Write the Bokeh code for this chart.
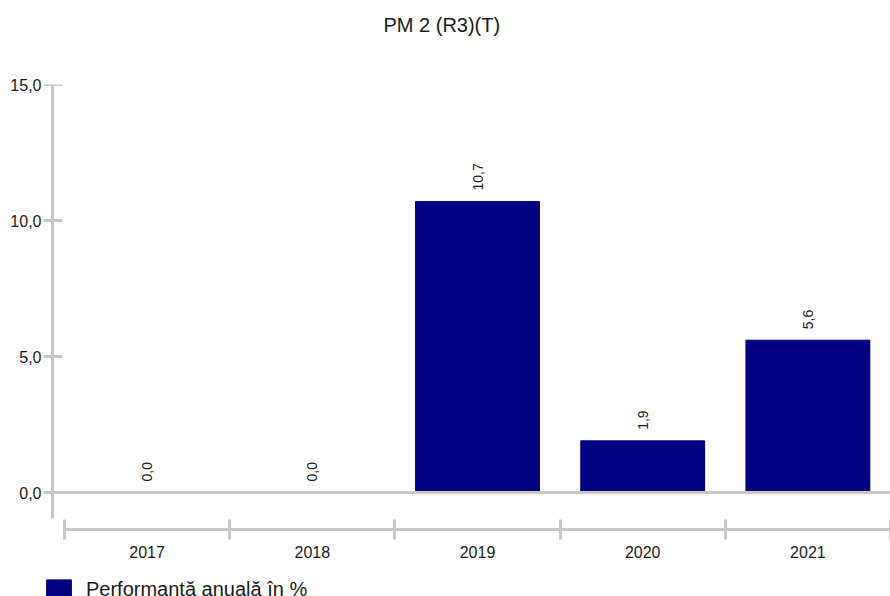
from math import pi
from bokeh.plotting import figure
from bokeh.models import (ColumnDataSource, Range1d, FixedTicker, Legend,
                          LegendItem, Title, LinearAxis)
from bokeh.core.properties import value
from bokeh.embed import file_html
from bokeh.resources import INLINE

# ---- data ----
years = ["2017", "2018", "2019", "2020", "2021"]
performance = [0.0, 0.0, 10.7, 1.9, 5.6]
y_ticks = [0, 5, 10, 15]
y_tick_labels = ["0,0", "5,0", "10,0", "15,0"]
title_text = "PM 2 (R3)(T)"
legend_label = "Performantă anuală în %"

FONT = "Liberation Sans"
GRAY = "#c8c8c8"
BAR = "#000080"
TXT = "#1a1a1a"

PX_X = 165.2   # pixels per category
PX_Y = 27.2    # pixels per unit
Y_AXIS_X = -0.5 - 12 / PX_X        # where the y axis line sits (data x)
X_AXIS_Y = -37 / PX_Y              # where the x axis sits (data y)

xs = list(range(len(years)))
value_labels = [f"{v:.1f}".replace(".", ",") for v in performance]
src = ColumnDataSource(data=dict(x=xs, top=performance, lab=value_labels))

p = figure(frame_width=847, frame_height=512, output_backend="svg",
           toolbar_location=None,
           x_range=Range1d(-0.5 - 21 / PX_X, 4.5),
           y_range=Range1d(15 - 512 / PX_Y, 15),
           min_border_left=43, min_border_right=0, min_border_top=0,
           min_border_bottom=0)
p.outline_line_color = None
p.xgrid.visible = False
p.ygrid.visible = False
p.background_fill_color = "white"
p.border_fill_color = "white"

bars = p.vbar(x="x", top="top", width=0.75, source=src, fill_color=BAR,
              line_color=BAR, line_width=1)

# zero line (drawn over the bars' bases, starting at the y axis)
p.segment(x0=[Y_AXIS_X], y0=[0], x1=[4.5], y1=[0], line_color=GRAY,
          line_width=3)

p.text(x="x", y="top", text="lab", source=src, angle=pi / 2,
       text_align="left", text_baseline="middle", y_offset=-11,
       text_font=value(FONT), text_font_size="14px", text_color=TXT)

# y axis labels (left panel, no line / ticks)
ya = p.yaxis[0]
ya.ticker = FixedTicker(ticks=y_ticks, minor_ticks=[])
ya.major_label_overrides = {float(t): l for t, l in zip(y_ticks, y_tick_labels)}
ya.axis_line_color = None
ya.major_tick_line_color = None
ya.minor_tick_line_color = None
ya.major_tick_in = 0
ya.major_tick_out = 0
ya.major_label_standoff = 2
ya.major_label_text_font = FONT
ya.major_label_text_font_size = "16px"
ya.major_label_text_color = TXT

# y axis line and ticks at the reference position
ya2 = LinearAxis(fixed_location=Y_AXIS_X,
                 ticker=FixedTicker(ticks=y_ticks, minor_ticks=[]),
                 major_label_overrides={float(t): "" for t in y_ticks},
                 bounds=(-26 / PX_Y, 15),
                 axis_line_color=GRAY, axis_line_width=3,
                 major_tick_line_color=GRAY, major_tick_line_width=3,
                 major_tick_in=10, major_tick_out=10,
                 minor_tick_line_color=None, major_label_standoff=0)
p.add_layout(ya2, "right")

# x axis
xa = p.xaxis[0]
xa.fixed_location = X_AXIS_Y
xa.ticker = FixedTicker(ticks=xs, minor_ticks=[i - 0.5 for i in range(len(years) + 1)])
xa.major_label_overrides = {float(i): y for i, y in zip(xs, years)}
xa.bounds = (-0.5, 4.5)
xa.axis_line_color = GRAY
xa.axis_line_width = 3
xa.major_tick_line_color = None
xa.major_tick_in = 0
xa.major_tick_out = 0
xa.minor_tick_line_color = GRAY
xa.minor_tick_line_width = 3
xa.minor_tick_in = 10
xa.minor_tick_out = 10
xa.major_label_standoff = 6
xa.major_label_text_font = FONT
xa.major_label_text_font_size = "16px"
xa.major_label_text_color = TXT

# title (outermost in the top panel)
p.title.text = title_text
p.title.align = "left"
p.title.offset = 340
p.title.standoff = 22
p.title.text_font = FONT
p.title.text_font_size = "20px"
p.title.text_font_style = "normal"
p.title.text_color = TXT

# empty spacer between the title and the chart
p.add_layout(Title(text=" ", standoff=14, text_font=FONT,
                   text_font_size="20px"), "above")

# legend
legend = Legend(items=[LegendItem(label=legend_label, renderers=[bars])],
                location=(0, -5), orientation="horizontal",
                glyph_width=31, glyph_height=24, label_height=24,
                label_standoff=12,
                label_text_font=FONT, label_text_font_size="20px",
                label_text_color=TXT, padding=0, margin=0,
                border_line_alpha=0, background_fill_alpha=0)
p.add_layout(legend, "center")

open("out.html", "w").write(file_html(p, INLINE))
